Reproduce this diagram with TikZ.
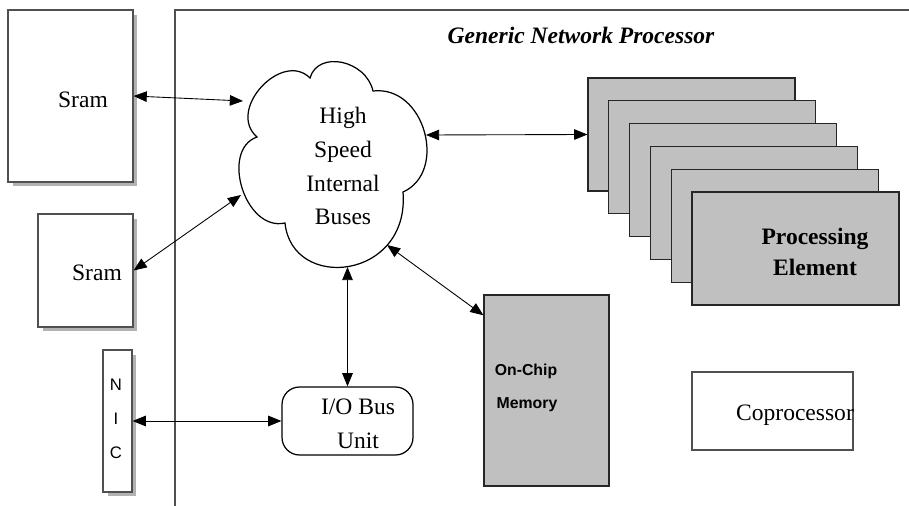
\documentclass[tikz,border=0pt]{standalone}
\usepackage{fontspec}
\setmainfont{Liberation Serif}
\setsansfont{Liberation Sans}
\usetikzlibrary{arrows.meta,shadows}

\definecolor{chipgray}{HTML}{C0C0C0}
\definecolor{edgegray}{HTML}{505050}

\tikzset{
  box/.style={draw=edgegray, line width=0.7pt, fill=white, inner sep=0pt},
  shadowed/.style={drop shadow={shadow xshift=0.09cm, shadow yshift=-0.09cm, fill=black!30, opacity=1}},
  graybox/.style={draw=black!85, line width=0.7pt, fill=chipgray, inner sep=0pt},
  conn/.style={<->, >={Triangle[length=7.5pt,width=6pt]}, line width=0.5pt},
  lbl/.style={font=\fontsize{13.4}{19.3}\selectfont, align=center, inner sep=0pt},
  sanslbl/.style={font=\sffamily\bfseries\fontsize{9}{11}\selectfont, inner sep=0pt},
  nicltr/.style={font=\sffamily\fontsize{9.5}{10}\selectfont, inner sep=0pt},
}

\begin{document}
\begin{tikzpicture}[x=0.02cm, y=-0.02cm]
\useasboundingbox (0,0) rectangle (909,506);

% chip frame
\draw[edgegray, line width=0.8pt] (909,10) -- (175,10) -- (175,506);
\node[lbl, font=\bfseries\itshape\fontsize{13.4}{16}\selectfont] (title) at (581,35) {Generic Network Processor};

% external parts
\node[box, shadowed, minimum width=2.5cm, minimum height=3.44cm] (sram1) at (70.5,96) {};
\node[lbl] (sram1txt) at (83,100) {Sram};
\node[box, shadowed, minimum width=1.9cm, minimum height=2.26cm] (sram2) at (85.5,270.5) {};
\node[lbl] (sram2txt) at (97,273) {Sram};
\node[box, shadowed, minimum width=0.58cm, minimum height=2.84cm] (nic) at (117.5,421) {};
\foreach \c/\y in {N/385,I/419,C/453}
  \node[nicltr] (nic\c) at (116,\y) {\c};

% bus cloud
\draw[line width=0.7pt] (257,137)
  .. controls (226,110) and (282,50) .. (310,78)
  .. controls (318,50) and (366,60) .. (373,91)
  .. controls (425,85) and (448,172) .. (403,192)
  .. controls (410,280) and (292,292) .. (285,223)
  .. controls (245,232) and (220,150) .. (257,137) -- cycle;
\node[lbl] (bus) at (343,166) {High\\Speed\\Internal\\Buses};
\coordinate (busA) at (243,101);
\coordinate (busB) at (241,195);
\coordinate (busC) at (426,135);
\coordinate (busD) at (347.5,267);
\coordinate (busE) at (387,245);

% processing elements
\foreach \k in {0,...,5}
  \node[graybox, minimum width=4.14cm, minimum height=2.26cm] (pe\k) at (691.5+20.8*\k,134.5+22.8*\k) {};
\node[lbl, font=\bfseries\fontsize{13.4}{17.6}\selectfont] (petxt) at (815,252) {Processing\\Element};

\node[graybox, minimum width=2.5cm, minimum height=3.82cm] (ocm) at (546.5,390.5) {};
\node[sanslbl] (ocmtxt1) at (526,371) {On-Chip};
\node[sanslbl] (ocmtxt2) at (527,405) {Memory};

\node[draw, line width=0.7pt, rounded corners=0.35cm, minimum width=2.62cm, minimum height=1.36cm] (io) at (347.5,421) {};
\node[lbl] (iotxt) at (358,424) {I/O Bus\\Unit};

\node[box, minimum width=3.22cm, minimum height=1.56cm] (copro) at (772.5,411) {};
\node[lbl] (coprotxt) at (795,415) {Coprocessor};

% connectors
\draw[conn] (sram1.east) -- (busA);
\draw[conn] (sram2.east) -- (busB);
\draw[conn] (busC) -- (pe0.west);
\draw[conn] (busD) -- (io.north);
\draw[conn] (busE) -- (ocm.130);
\draw[conn] (nic.east) -- (io.west);
\end{tikzpicture}
\end{document}
